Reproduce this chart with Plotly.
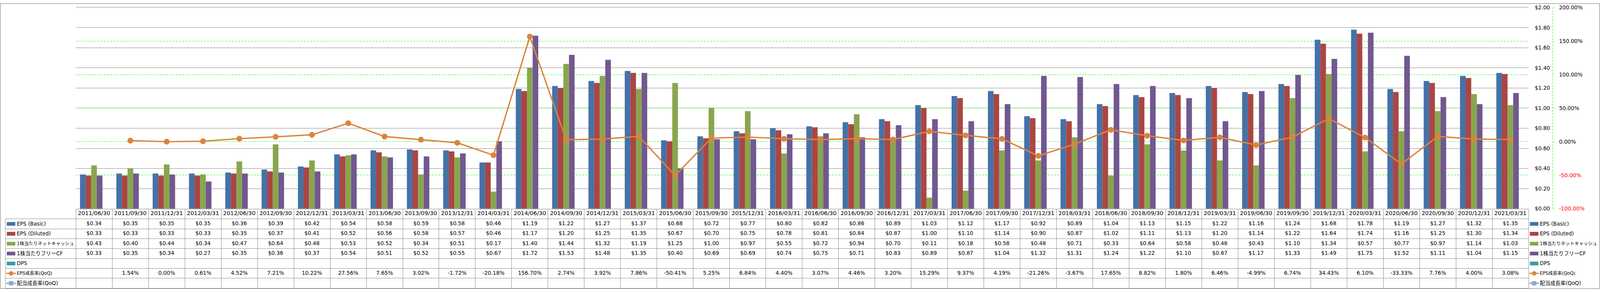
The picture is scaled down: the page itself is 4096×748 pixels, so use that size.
import plotly.graph_objects as go

# ---------------- data ----------------
dates = ["2011/06/30", "2011/09/30", "2011/12/31", "2012/03/31", "2012/06/30", "2012/09/30",
         "2012/12/31", "2013/03/31", "2013/06/30", "2013/09/30", "2013/12/31", "2014/03/31",
         "2014/06/30", "2014/09/30", "2014/12/31", "2015/03/31", "2015/06/30", "2015/09/30",
         "2015/12/31", "2016/03/31", "2016/06/30", "2016/09/30", "2016/12/31", "2017/03/31",
         "2017/06/30", "2017/09/30", "2017/12/31", "2018/03/31", "2018/06/30", "2018/09/30",
         "2018/12/31", "2019/03/31", "2019/06/30", "2019/09/30", "2019/12/31", "2020/03/31",
         "2020/06/30", "2020/09/30", "2020/12/31", "2021/03/31"]

eps_basic = [0.34, 0.35, 0.35, 0.35, 0.36, 0.39, 0.42, 0.54, 0.58, 0.59, 0.58, 0.46, 1.19, 1.22,
             1.27, 1.37, 0.68, 0.72, 0.77, 0.80, 0.82, 0.86, 0.89, 1.03, 1.12, 1.17, 0.92, 0.89,
             1.04, 1.13, 1.15, 1.22, 1.16, 1.24, 1.68, 1.78, 1.19, 1.27, 1.32, 1.35]
eps_diluted = [0.33, 0.33, 0.33, 0.33, 0.35, 0.37, 0.41, 0.52, 0.56, 0.58, 0.57, 0.46, 1.17, 1.20,
               1.25, 1.35, 0.67, 0.70, 0.75, 0.78, 0.81, 0.84, 0.87, 1.00, 1.10, 1.14, 0.90, 0.87,
               1.02, 1.11, 1.13, 1.20, 1.14, 1.22, 1.64, 1.74, 1.16, 1.25, 1.30, 1.34]
net_cash = [0.43, 0.40, 0.44, 0.34, 0.47, 0.64, 0.48, 0.53, 0.52, 0.34, 0.51, 0.17, 1.40, 1.44,
            1.32, 1.19, 1.25, 1.00, 0.97, 0.55, 0.72, 0.94, 0.70, 0.11, 0.18, 0.58, 0.48, 0.71,
            0.33, 0.64, 0.58, 0.48, 0.43, 1.10, 1.34, 0.57, 0.77, 0.97, 1.14, 1.03]
free_cf = [0.33, 0.35, 0.34, 0.27, 0.35, 0.36, 0.37, 0.54, 0.51, 0.52, 0.55, 0.67, 1.72, 1.53,
           1.48, 1.35, 0.40, 0.69, 0.69, 0.74, 0.75, 0.71, 0.83, 0.89, 0.87, 1.04, 1.32, 1.31,
           1.24, 1.22, 1.10, 0.87, 1.17, 1.33, 1.49, 1.75, 1.52, 1.11, 1.04, 1.15]
dps = [None] * 40
eps_growth = [None, 1.54, 0.00, 0.61, 4.52, 7.21, 10.22, 27.56, 7.65, 3.02, -1.72, -20.18, 156.70,
              2.74, 3.92, 7.86, -50.41, 5.25, 6.84, 4.40, 3.07, 4.46, 3.20, 15.29, 9.37, 4.19,
              -21.26, -3.67, 17.65, 8.82, 1.80, 6.46, -4.99, 6.74, 34.43, 6.10, -33.33, 7.76,
              4.00, 3.08]
div_growth = [None] * 40

series_names = ["EPS (Basic)", "EPS (Diluted)", "1株当たりネットキャッシュ", "1株当たりフリーCF",
                "DPS", "EPS成長率(QoQ)", "配当成長率(QoQ)"]
series_colors = ["#4572A7", "#AA4643", "#89A54E", "#71588F", "#3D96AE", "#DB843D", "#92A8CD"]

usd_ticks = [0.0, 0.2, 0.4, 0.6, 0.8, 1.0, 1.2, 1.4, 1.6, 1.8, 2.0]
pct_ticks = [-100, -50, 0, 50, 100, 150, 200]

# ---------------- geometry helpers (reference px -> paper) ----------------
W_REF, H_REF = 4701.0, 858.0
S = 4096.0 / W_REF


def px(x):
    return x / W_REF


def py(y):
    return 1 - y / H_REF


FONT = "DejaVu Sans, Noto Sans CJK JP, sans-serif"
GRID = "#868686"
LINE = "#8a8a8a"

PLOT_L, PLOT_R = 223.0, 4491.0
PLOT_T, AXIS_Y = 13.3, 617.3
TABLE_L, TABLE_T, TABLE_B = 16.0, 648.0, 856.0
n = len(dates)
cat_w = (PLOT_R - PLOT_L) / n
row_h = (TABLE_B - TABLE_T) / 7.0
hdr_units = (TABLE_T - AXIS_Y) / row_h
ext = (PLOT_L - TABLE_L) / cat_w

fig = go.Figure()

bar_series = [eps_basic, eps_diluted, net_cash, free_cf, dps]
for vals, name, col in zip(bar_series, series_names[:5], series_colors[:5]):
    fig.add_trace(go.Bar(x=dates, y=vals, name=name, marker=dict(color=col, line=dict(width=0)),
                         xaxis="x", yaxis="y", hoverinfo="skip", showlegend=False))

for vals, name, col in [(eps_growth, series_names[5], series_colors[5]),
                        (div_growth, series_names[6], series_colors[6])]:
    fig.add_trace(go.Scatter(x=dates, y=vals, name=name, mode="lines+markers",
                             line=dict(color=col, width=4 * S),
                             marker=dict(color=col, size=17 * S),
                             xaxis="x", yaxis="y2", hoverinfo="skip", showlegend=False))

# ---------------- data table ----------------
idx = list(range(n))
fig.add_trace(go.Scatter(x=idx, y=[-hdr_units / 2] * n, text=dates, mode="text",
                         textfont=dict(family=FONT, size=16.5 * S, color="#000"),
                         xaxis="x2", yaxis="y3", hoverinfo="skip", showlegend=False))

table_rows = [(eps_basic, "usd"), (eps_diluted, "usd"), (net_cash, "usd"), (free_cf, "usd"),
              (dps, "usd"), (eps_growth, "pct"), (div_growth, "pct")]
for r, (vals, kind) in enumerate(table_rows):
    txt = ["" if v is None else (f"${v:.2f}" if kind == "usd" else f"{v:.2f}%") for v in vals]
    fig.add_trace(go.Scatter(x=idx, y=[r + 0.5] * n, text=txt, mode="text",
                             textfont=dict(family=FONT, size=15.6 * S, color="#000"),
                             xaxis="x2", yaxis="y3", hoverinfo="skip", showlegend=False))

shapes = []
annotations = []


def legend_item(x_left, r, name, col, kind):
    yc = r + 0.5
    if kind == "bar":
        shapes.append(dict(type="rect", xref="paper", xsizemode="pixel", xanchor=px(x_left),
                           x0=0, x1=25 * S, yref="y3", ysizemode="pixel", yanchor=yc,
                           y0=-5.5 * S, y1=5.5 * S, fillcolor=col, line=dict(width=0)))
    else:
        shapes.append(dict(type="line", xref="paper", xsizemode="pixel", xanchor=px(x_left - 2),
                           x0=0, x1=29 * S, yref="y3", ysizemode="pixel", yanchor=yc,
                           y0=0, y1=0, line=dict(color=col, width=3.5 * S)))
        shp = "circle" if kind == "line_circle" else "rect"
        shapes.append(dict(type=shp, xref="paper", xsizemode="pixel", xanchor=px(x_left + 12.5),
                           x0=-6.5 * S, x1=6.5 * S, yref="y3", ysizemode="pixel", yanchor=yc,
                           y0=-6.5 * S, y1=6.5 * S, fillcolor=col, line=dict(width=0)))
    fsize = 15.2 * S
    if len(name) > 10 and not name.isascii():
        fsize = 11.6
    annotations.append(dict(xref="paper", x=px(x_left + 27), xanchor="left", yref="y3", y=yc,
                            yanchor="middle", text=name, showarrow=False,
                            font=dict(family=FONT, size=fsize, color="#000")))


kinds = ["bar", "bar", "bar", "bar", "bar", "line_circle", "line_square"]
for r, (name, col, k) in enumerate(zip(series_names, series_colors, kinds)):
    legend_item(20, r, name, col, k)      # row headers of the table
    legend_item(4495, r, name, col, k)    # legend on the right

# table left border (body only)
shapes.append(dict(type="line", xref="paper", x0=px(TABLE_L), x1=px(TABLE_L), yref="y3",
                   y0=0, y1=7, line=dict(color=LINE, width=1)))
# dashed secondary axis line
shapes.append(dict(type="line", xref="paper", x0=px(4562), x1=px(4562), yref="y2",
                   y0=pct_ticks[0], y1=pct_ticks[-1],
                   line=dict(color="#00FF00", width=1, dash="5px,3px")))
# outer chart border
shapes.append(dict(type="rect", xref="paper", yref="paper", x0=px(1), x1=px(4699.5),
                   y0=py(857.3), y1=py(1.3), line=dict(color=GRID, width=1.2),
                   fillcolor="rgba(0,0,0,0)", layer="above"))

pct_text = [(f'<span style="color:#FF0000">{v:.2f}%</span>' if v < 0 else f"{v:.2f}%")
            for v in pct_ticks]

fig.update_layout(
    width=4096, height=748, autosize=False,
    margin=dict(l=0, r=0, t=0, b=0, pad=0),
    paper_bgcolor="white", plot_bgcolor="white",
    barmode="group", bargap=0.227, bargroupgap=0,
    showlegend=False,
    font=dict(family=FONT, size=15.4 * S, color="#000"),
    xaxis=dict(type="category", categoryorder="array", categoryarray=dates,
               domain=[px(PLOT_L), px(PLOT_R)], range=[-0.5, n - 0.5], anchor="y",
               showline=True, mirror=True, linecolor=GRID, linewidth=1, showgrid=False,
               showticklabels=False, ticks="", zeroline=False, fixedrange=True),
    yaxis=dict(domain=[py(AXIS_Y), py(PLOT_T)], range=[usd_ticks[0], usd_ticks[-1]],
               anchor="free", position=px(4554), side="left",
               tickmode="array", tickvals=usd_ticks, ticktext=[f"${v:.2f}" for v in usd_ticks],
               showgrid=True, gridcolor=GRID, gridwidth=1, zeroline=False, showline=False,
               ticks="", tickfont=dict(family=FONT, size=15.6 * S, color="#000"),
               fixedrange=True),
    yaxis2=dict(overlaying="y", range=[pct_ticks[0], pct_ticks[-1]],
                anchor="free", position=px(4562), side="right",
                tickmode="array", tickvals=pct_ticks, ticktext=pct_text,
                showgrid=True, gridcolor="#00FF00", gridwidth=1, griddash="5px,3px",
                zeroline=False, showline=False, ticks="outside", ticklen=3 * S,
                tickcolor="#00FF00", tickwidth=1, ticklabelstandoff=10,
                tickfont=dict(family=FONT, size=15.6 * S, color="#000"), fixedrange=True),
    xaxis2=dict(domain=[px(TABLE_L), px(PLOT_R)], range=[-0.5 - ext, n - 0.5], anchor="y3",
                tickmode="array", tickvals=[i - 0.5 for i in range(n + 1)],
                showticklabels=False, ticks="", showgrid=True, gridcolor=LINE, gridwidth=1,
                zeroline=False, showline=True, linecolor=LINE, linewidth=1, fixedrange=True),
    yaxis3=dict(domain=[py(TABLE_B), py(AXIS_Y)], range=[7, -hdr_units], anchor="x2",
                tickmode="array", tickvals=list(range(8)), showticklabels=False, ticks="",
                showgrid=True, gridcolor=LINE, gridwidth=1, zeroline=False,
                showline=True, side="right", linecolor=LINE, linewidth=1, fixedrange=True),
    shapes=shapes,
    annotations=annotations,
)

fig.write_html("out.html", config={"displayModeBar": False, "staticPlot": True},
               post_script="document.body.style.margin='0';document.body.style.overflow='hidden';")
